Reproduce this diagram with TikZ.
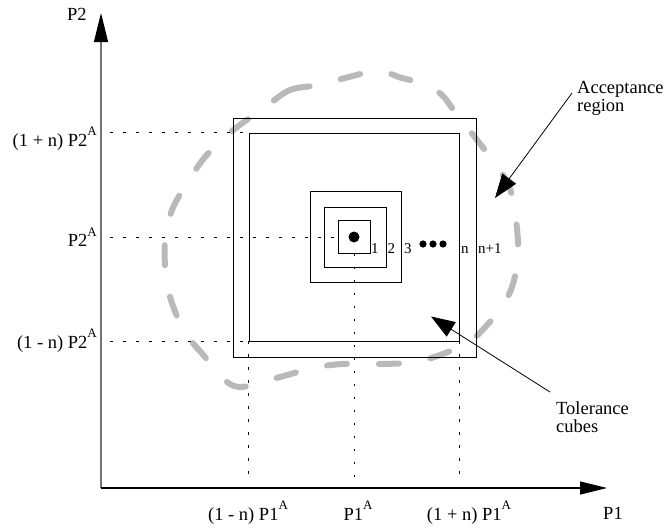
\documentclass[tikz,border=0pt]{standalone}
\usepackage{fontspec}
\setmainfont{Liberation Serif}
\usetikzlibrary{arrows.meta}

\newcommand{\supA}{\raisebox{0.55em}{\fontsize{13}{13}\selectfont A}}

\begin{document}
\begin{tikzpicture}[
  x=1pt, y=-1pt,
  axis/.style={line width=1.2pt},
  cube/.style={draw,line width=0.9pt,inner sep=0pt},
  guide/.style={line width=0.8pt,dash pattern=on 2.5pt off 10.5pt},
  blob/.style={line width=6pt,draw=gray!55,line cap=round,dash pattern=on 20pt off 32pt},
  pointer/.style={-{Triangle[length=24pt,width=17pt]},line width=0.8pt},
  lab/.style={font=\fontsize{18.5}{18}\selectfont,inner sep=0pt},
  num/.style={font=\fontsize{15}{15}\selectfont,inner sep=0pt,anchor=base west}
]
  \useasboundingbox (0,0) rectangle (663,531);

  % axes
  \coordinate (O) at (101,488);
  \coordinate (ytip) at (101,13);
  \coordinate (xtip) at (607,488);
  \draw[axis,black!55,-{Triangle[length=29pt,width=14pt,color=black]}] (O) -- (ytip);
  \draw[axis,-{Triangle[length=27pt,width=13pt]}] (O) -- (xtip);
  \node[lab,anchor=base west] (p2) at (67,20) {P2};
  \node[lab,anchor=base] (p1) at (613,519) {P1};

  % acceptance region
  \draw[blob] plot[smooth cycle,tension=0.55] coordinates {
    (264,108) (290,90) (320,85) (345,78) (378,71) (402,78) (425,84)
    (442,95) (455,112) (470,131) (490,157) (509,186) (516,220) (518,255)
    (512,287) (498,312) (472,340) (448,352) (416,362) (380,364) (342,364)
    (313,368) (280,377) (240,387) (220,376) (205,357) (186,334) (173,306)
    (166,278) (165,240) (172,210) (186,185) (205,157) (232,131)};

  % tolerance cubes
  \node[cube,minimum width=243pt,minimum height=239pt] (outer) at (354.5,237.5) {};
  \node[cube,minimum width=210pt,minimum height=208pt] (inner) at (354,237) {};
  \node[cube,minimum width=91pt,minimum height=91pt] (c3) at (355.5,236.5) {};
  \node[cube,minimum width=62pt,minimum height=60pt] (c2) at (355,237.5) {};
  \node[cube,minimum width=31.5pt,minimum height=32.5pt] (c1) at (354.3,237) {};
  \node[circle,fill,minimum size=11pt,inner sep=0pt] (centre) at (354,237) {};

  \node[num] (n1) at (371,253) {1};
  \node[num] (n2) at (387.5,253) {2};
  \node[num] (n3) at (404,253) {3};
  \foreach \dx in {423,433,443}
    \fill (\dx,244) circle (3.6pt);
  \node[num] (nn) at (461,253) {n};
  \node[num] (nn1) at (478,253) {n+1};

  % guide lines
  \draw[guide,shorten <=9pt] (O |- inner.north west) -- (inner.north west);
  \draw[guide,shorten <=9pt] (O |- c1.west) -- (c1.west);
  \draw[guide,shorten <=9pt] (O |- inner.south west) -- (inner.south west);
  \draw[guide,shorten >=6pt] (inner.south west) -- (inner.south west |- O);
  \draw[guide] (c1.south) -- (c1.south |- O);
  \draw[guide,shorten >=6pt] (inner.south east) -- (inner.south east |- O);

  \node[lab,anchor=base east] (l2up) at (97,146) {(1 + n) P2\supA};
  \node[lab,anchor=base east] (l2) at (97,246.5) {P2\supA};
  \node[lab,anchor=base east] (l2dn) at (97,348) {(1 - n) P2\supA};
  \node[lab,anchor=base] (l1dn) at (248,520) {(1 - n) P1\supA};
  \node[lab,anchor=base] (l1) at (358,520) {P1\supA};
  \node[lab,anchor=base] (l1up) at (469,520) {(1 + n) P1\supA};

  % callouts
  \node[lab,anchor=north west,align=left] (acc) at (577,81) {Acceptance\\region};
  \node[lab,anchor=north west,align=left] (tol) at (556,401.5) {Tolerance\\cubes};
  \coordinate (accfrom) at (572,93);
  \coordinate (accto) at (495,198);
  \coordinate (tolfrom) at (550,392);
  \coordinate (tolto) at (431,316.5);
  \draw[pointer] (accfrom) -- (accto);
  \draw[pointer] (tolfrom) -- (tolto);
\end{tikzpicture}
\end{document}
